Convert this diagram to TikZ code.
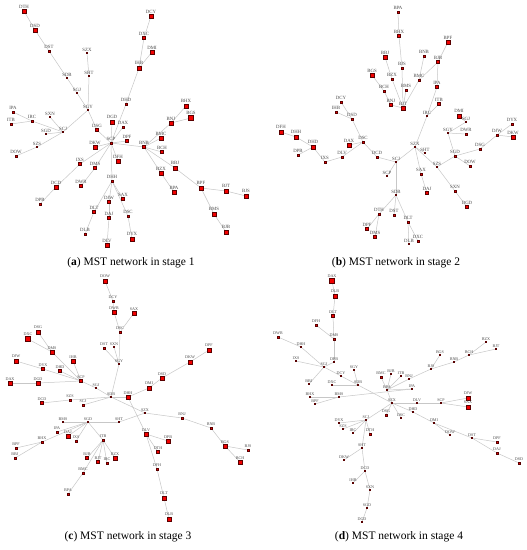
\documentclass[tikz,border=0pt]{standalone}
\usepackage{fontspec}
\setmainfont{Liberation Serif}
\pgfdeclarelayer{bg}
\pgfsetlayers{bg,main}
\newcommand\nd[5]{\node[sq=#5,label={[lbl]above:#2}] (#1-#2) at (#3,#4) {};}
\tikzset{
  sq/.style={rectangle, draw=black!65!red, fill=red!95!black, minimum size={#1*1.15pt}, inner sep=0pt, line width=0.3pt},
  lblA/.style={font=\fontsize{4.8}{5}\selectfont, text=black!70, inner sep=0pt},
  lblC/.style={font=\fontsize{4.1}{4.5}\selectfont, text=black!70, inner sep=0pt},
  edge/.style={draw=black!22, line width=0.5pt},
  captxt/.style={font=\fontsize{11.5}{13}\selectfont, inner sep=0pt}
}
\begin{document}
\begin{tikzpicture}[x=1pt,y=-1pt,label distance=0.8pt]
\begin{pgfonlayer}{bg}
\fill[white] (0,0) rectangle (527,550);
\end{pgfonlayer}
\useasboundingbox (0,0) rectangle (527,550);
% ---------------- panel (a)
\begin{scope}[lbl/.style={lblA}]
\nd{a}{DTH}{24}{11}{3}
\nd{a}{DSD}{35}{30}{3}
\nd{a}{DST}{49}{51}{2}
\nd{a}{SDB}{67}{78}{1}
\nd{a}{SGJ}{77}{93}{1}
\nd{a}{SGY}{88}{110}{1}
\nd{a}{SZX}{87}{53}{0.8}
\nd{a}{SHT}{89}{76}{1}
\nd{a}{DCY}{151}{16}{3}
\nd{a}{DXC}{144}{38}{2.5}
\nd{a}{DMI}{152}{52}{3}
\nd{a}{IHB}{139}{68}{3.5}
\nd{a}{DHD}{126}{104}{2}
\nd{a}{BHX}{186}{106}{3.5}
\nd{a}{BGS}{191}{118}{4.5}
\nd{a}{BNJ}{171}{123}{3}
\nd{a}{DGD}{112}{122}{3.5}
\nd{a}{DAX}{123}{127}{2}
\nd{a}{DSG}{97}{130}{2.5}
\nd{a}{IPA}{13}{112}{2}
\nd{a}{ITB}{11}{124}{2}
\nd{a}{IRC}{32}{121}{2}
\nd{a}{SXN}{50}{117}{1}
\nd{a}{SCJ}{63}{132}{1}
\nd{a}{SGD}{46}{134}{1}
\nd{a}{SZS}{37}{147}{1}
\nd{a}{DOW}{16}{156}{1.5}
\nd{a}{SCP}{111}{143}{1.5}
\nd{a}{DPF}{127}{141}{2.5}
\nd{a}{DKW}{95}{147}{3}
\nd{a}{DFH}{118}{161}{3}
\nd{a}{IXS}{80}{164}{2.5}
\nd{a}{DMS}{95}{168}{2.5}
\nd{a}{DHH}{112}{181}{2}
\nd{a}{BNB}{144}{147}{2.5}
\nd{a}{BMC}{161}{138}{3}
\nd{a}{BCH}{162}{152}{2.5}
\nd{a}{BBJ}{175}{168}{3.5}
\nd{a}{BZX}{161}{173}{3}
\nd{a}{BPA}{174}{192}{3}
\nd{a}{BPF}{201}{188}{3.5}
\nd{a}{BJT}{226}{191}{3.5}
\nd{a}{BJS}{246}{196}{3.5}
\nd{a}{BMS}{214}{214}{3.5}
\nd{a}{BJB}{226}{232}{3.5}
\nd{a}{DCD}{56}{187}{3}
\nd{a}{DWR}{81}{186}{2.5}
\nd{a}{DPB}{40}{204}{2}
\nd{a}{DJW}{109}{202}{2.5}
\nd{a}{SAX}{123}{199}{2.5}
\nd{a}{DLT}{94}{212}{2.5}
\nd{a}{DAJ}{109}{218}{2.5}
\nd{a}{DSC}{128}{216}{2}
\nd{a}{DLB}{85}{234}{2}
\nd{a}{DLV}{107}{245}{3}
\nd{a}{DYX}{132}{239}{3.5}
\end{scope}
% ---------------- panel (b)
\begin{scope}[lbl/.style={lblA}]
\nd{b}{BPA}{398}{12}{1.5}
\nd{b}{BHX}{399}{36}{2.5}
\nd{b}{BPF}{448}{42}{3}
\nd{b}{BBJ}{385}{57}{3}
\nd{b}{BNB}{424}{56}{2}
\nd{b}{BJS}{402}{68}{2}
\nd{b}{BJB}{438}{62}{2.5}
\nd{b}{BGS}{372}{75}{3}
\nd{b}{BZX}{392}{79}{2}
\nd{b}{BMC}{419}{80}{1.5}
\nd{b}{IPA}{437}{87}{2.5}
\nd{b}{BCH}{384}{91}{2}
\nd{b}{BMS}{406}{90}{2}
\nd{b}{BNJ}{391}{105}{2.5}
\nd{b}{BJT}{403}{108}{3}
\nd{b}{ITB}{439}{104}{2.5}
\nd{b}{IRC}{427}{116}{1}
\nd{b}{DCY}{341}{102}{2}
\nd{b}{IHB}{336}{112}{2}
\nd{b}{DSD}{352}{119}{2}
\nd{b}{DMI}{459}{116}{3.5}
\nd{b}{SGJ}{466}{122}{1}
\nd{b}{DYX}{512}{124}{2}
\nd{b}{SGY}{448}{133}{1}
\nd{b}{DWR}{466}{134}{2}
\nd{b}{DJW}{497}{135}{2}
\nd{b}{DKW}{513}{137}{3}
\nd{b}{DSG}{480}{149}{1.5}
\nd{b}{SZX}{415}{147}{1}
\nd{b}{SHT}{425}{153}{1}
\nd{b}{SGD}{455}{156}{1.5}
\nd{b}{SZS}{437}{167}{1}
\nd{b}{DOW}{470}{166}{1.5}
\nd{b}{SAX}{421}{174}{1.5}
\nd{b}{DFH}{281}{132}{4}
\nd{b}{DHH}{296}{137}{3.5}
\nd{b}{DHD}{313}{147}{3.5}
\nd{b}{DPB}{298}{155}{2}
\nd{b}{IXS}{325}{162}{2}
\nd{b}{DLV}{342}{157}{2}
\nd{b}{DAX}{349}{145}{3}
\nd{b}{DSC}{363}{142}{2}
\nd{b}{DCD}{377}{157}{1.5}
\nd{b}{SCJ}{396}{162}{1}
\nd{b}{SCP}{387}{176}{1}
\nd{b}{DAJ}{427}{193}{2.5}
\nd{b}{SXN}{455}{191}{1.5}
\nd{b}{DGD}{467}{207}{2.5}
\nd{b}{SDB}{396}{195}{1}
\nd{b}{DTH}{379}{214}{2}
\nd{b}{DST}{394}{215}{1.5}
\nd{b}{DLT}{408}{222}{1.5}
\nd{b}{DPF}{367}{229}{2.5}
\nd{b}{DMS}{375}{237}{2.5}
\nd{b}{DLB}{409}{244}{1}
\nd{b}{DXC}{418}{241}{1.5}
\end{scope}
% ---------------- panel (c)
\begin{scope}[lbl/.style={lblC}]
\nd{c}{DOW}{105}{281}{4}
\nd{c}{DCY}{113}{301}{2}
\nd{c}{DWR}{114}{312}{3}
\nd{c}{SAX}{134}{313}{3}
\nd{c}{DSC}{120}{332}{2}
\nd{c}{DSG}{38}{332}{4}
\nd{c}{DXC}{28}{339}{4.5}
\nd{c}{DMS}{52}{352}{3}
\nd{c}{DST}{104}{348}{2}
\nd{c}{SXN}{114}{347}{1}
\nd{c}{SGY}{119}{364}{1}
\nd{c}{DJW}{16}{361}{3.5}
\nd{c}{IHB}{73}{361}{3}
\nd{c}{DYX}{43}{369}{2.5}
\nd{c}{DHD}{60}{371}{2.5}
\nd{c}{SCP}{81}{381}{2.5}
\nd{c}{DAX}{10}{383}{3}
\nd{c}{DGD}{38}{383}{3}
\nd{c}{SGJ}{96}{388}{1}
\nd{c}{DPF}{209}{350}{4}
\nd{c}{DKW}{190}{362}{4}
\nd{c}{DSD}{162}{378}{3}
\nd{c}{DMI}{149}{388}{3.5}
\nd{c}{DHH}{128}{397}{3}
\nd{c}{SDB}{111}{397}{1}
\nd{c}{DCD}{42}{403}{2.5}
\nd{c}{SZS}{70}{400}{1.5}
\nd{c}{SCJ}{83}{405}{2}
\nd{c}{SZX}{145}{413}{1}
\nd{c}{BNJ}{182}{418}{2}
\nd{c}{SHT}{119}{422}{1}
\nd{c}{SGD}{88}{422}{1}
\nd{c}{BMS}{63}{422}{1}
\nd{c}{IPA}{57}{432}{1.5}
\nd{c}{DAJ}{68}{436}{3}
\nd{c}{IXS}{76}{441}{2}
\nd{c}{BHX}{42}{442}{1.5}
\nd{c}{BPF}{16}{448}{1.5}
\nd{c}{BBJ}{15}{458}{1.5}
\nd{c}{ITB}{103}{440}{2}
\nd{c}{DLV}{146}{434}{3}
\nd{c}{DPB}{168}{441}{3}
\nd{c}{DTH}{158}{452}{2.5}
\nd{c}{BJB}{87}{458}{2.5}
\nd{c}{BJT}{98}{462}{2.5}
\nd{c}{IRC}{107}{463}{1.5}
\nd{c}{BZX}{115}{458}{3}
\nd{c}{BMC}{83}{473}{1.5}
\nd{c}{BPA}{68}{494}{1.5}
\nd{c}{BNB}{211}{428}{2}
\nd{c}{BGS}{225}{446}{3}
\nd{c}{BJS}{248}{450}{1.5}
\nd{c}{BCH}{240}{462}{3}
\nd{c}{DFH}{157}{469}{2}
\nd{c}{DLT}{164}{498}{4}
\nd{c}{DLB}{169}{519}{4}
\end{scope}
% ---------------- panel (d)
\begin{scope}[lbl/.style={lblC}]
\nd{d}{DAX}{332}{281}{4.5}
\nd{d}{DLB}{335}{296}{4}
\nd{d}{DLT}{333}{316}{2.5}
\nd{d}{DFH}{316}{325}{2}
\nd{d}{DMS}{334}{339}{1.5}
\nd{d}{DWR}{278}{337}{2}
\nd{d}{DHH}{301}{347}{0.8}
\nd{d}{DPB}{334}{362}{1}
\nd{d}{IXS}{296}{361}{1}
\nd{d}{SGJ}{324}{367}{1}
\nd{d}{SGY}{354}{370}{1}
\nd{d}{DCY}{341}{376}{1}
\nd{d}{SDB}{358}{385}{1}
\nd{d}{BBJ}{309}{384}{1}
\nd{d}{DXC}{332}{385}{1}
\nd{d}{BHX}{310}{397}{1}
\nd{d}{BMS}{339}{397}{1}
\nd{d}{BPF}{315}{404}{1}
\nd{d}{BMC}{381}{377}{1.5}
\nd{d}{BJB}{391}{374}{1}
\nd{d}{ITB}{401}{376}{1}
\nd{d}{BNJ}{409}{379}{1}
\nd{d}{BPA}{387}{390}{1}
\nd{d}{IPA}{412}{389}{1}
\nd{d}{BJS}{431}{369}{1}
\nd{d}{BGS}{440}{355}{1}
\nd{d}{BNB}{454}{362}{1}
\nd{d}{BCH}{469}{355}{1}
\nd{d}{BZX}{486}{342}{1}
\nd{d}{BJT}{496}{349}{1}
\nd{d}{SZX}{392}{403}{1}
\nd{d}{DLV}{417}{403}{1}
\nd{d}{SCP}{441}{403}{1}
\nd{d}{DJW}{468}{398}{3.5}
\nd{d}{SAX}{468}{407}{3.5}
\nd{d}{DSG}{386}{415}{2}
\nd{d}{DSC}{401}{418}{1}
\nd{d}{DHD}{413}{412}{1}
\nd{d}{DMI}{434}{423}{1}
\nd{d}{DOW}{450}{435}{1}
\nd{d}{DST}{472}{438}{1}
\nd{d}{DPF}{497}{442}{2}
\nd{d}{DAJ}{497}{453}{2}
\nd{d}{DSD}{519}{463}{2}
\nd{d}{SCJ}{366}{420}{1}
\nd{d}{DYX}{339}{423}{1}
\nd{d}{SZS}{343}{429}{1}
\nd{d}{IRC}{353}{433}{1}
\nd{d}{DTH}{370}{434}{2}
\nd{d}{SHT}{362}{448}{1}
\nd{d}{DKW}{344}{460}{1}
\nd{d}{DCD}{365}{471}{1}
\nd{d}{IHB}{353}{483}{1}
\nd{d}{SXN}{370}{490}{1}
\nd{d}{SGD}{367}{508}{1}
\nd{d}{DGD}{362}{522}{1}
\end{scope}
% ---------------- edges
\begin{pgfonlayer}{bg}
\foreach \u/\v in {DTH/DSD,DSD/DST,DST/SDB,SDB/SGJ,SGJ/SGY,SZX/SHT,SHT/SGY,SGY/SCJ,SGY/DSG,DSG/SCP,
  DCY/DXC,DXC/IHB,DMI/IHB,IHB/DHD,DHD/SCP,DGD/SCP,DAX/SCP,IPA/IRC,ITB/IRC,IRC/SCJ,SXN/SCJ,SGD/SCJ,
  SZS/SCJ,DOW/SZS,SCP/DKW,SCP/DPF,SCP/BNB,SCP/DFH,SCP/IXS,SCP/DMS,SCP/DHH,IXS/DCD,DCD/DPB,DMS/DWR,
  BNB/BMC,BNB/BNJ,BNJ/BHX,BNJ/BGS,BNB/BCH,BNB/BBJ,BNB/BZX,BZX/BPA,BBJ/BPF,BPF/BJT,BJT/BJS,BPF/BMS,
  BMS/BJB,DHH/DJW,DHH/SAX,DHH/DSC,DHH/DLT,DJW/DAJ,DAJ/DLV,DLT/DLB,DSC/DYX}
  \draw[edge] (a-\u) -- (a-\v);
\foreach \u/\v in {BPA/BHX,BHX/BJS,BJS/BJT,BMS/BJT,BBJ/BZX,BZX/BJT,BGS/BCH,BCH/BNJ,BNJ/BJT,BNB/BMC,
  BMC/BJT,BPF/BJB,BJB/BMC,BJB/IPA,IPA/IRC,ITB/IRC,IRC/SZX,SZX/SHT,SZX/SCJ,SZX/SAX,SZX/SZS,SAX/DAJ,
  SZS/SXN,SXN/DGD,SZS/SGD,SGD/SGY,SGY/SGJ,SGJ/DMI,SGY/DWR,SGD/DOW,SGD/DSG,DSG/DJW,DJW/DYX,DJW/DKW,
  SCJ/DCD,DCD/DSC,DSC/DAX,DSC/DLV,DLV/IXS,IXS/DHD,DHD/DHH,DHH/DFH,DHD/DPB,DSC/DSD,DSD/IHB,DSD/DCY,
  SCJ/SDB,SCJ/SCP,SDB/DTH,SDB/DST,SDB/DLT,DTH/DPF,DTH/DMS,DLT/DLB,DLT/DXC}
  \draw[edge] (b-\u) -- (b-\v);
\foreach \u/\v in {DOW/DCY,DCY/DWR,DWR/DSC,SAX/DSC,DSC/SGY,DST/SGY,SXN/SGY,SGY/SDB,DSG/DMS,DXC/DMS,
  DMS/SCP,IHB/SCP,DHD/SCP,DJW/DYX,DYX/SCP,DAX/DGD,DGD/SCP,SCP/SGJ,SGJ/SDB,SDB/DHH,DHH/DMI,DMI/DSD,
  DSD/DKW,DKW/DPF,DCD/SZS,SZS/SDB,SCJ/SDB,SDB/SZX,SZX/BNJ,BNJ/BNB,BNB/BGS,BGS/BJS,BGS/BCH,SZX/SHT,
  SHT/SGD,SGD/BMS,SGD/IPA,SGD/DAJ,SGD/IXS,SGD/BHX,SGD/ITB,BHX/BPF,BHX/BBJ,ITB/BJB,ITB/BJT,ITB/IRC,
  ITB/BZX,ITB/BMC,BMC/BPA,DHH/DLV,DLV/DPB,DLV/DTH,DLV/DFH,DFH/DLT,DLT/DLB}
  \draw[edge] (c-\u) -- (c-\v);
\foreach \u/\v in {DAX/DLB,DLB/DLT,DLT/DMS,DFH/DMS,DMS/DPB,DWR/DHH,DHH/SGJ,IXS/SGJ,DPB/SGJ,SGJ/BBJ,
  SGJ/DCY,DCY/SDB,SGY/SDB,DXC/SDB,SDB/SZX,BMS/BHX,BMS/BPF,BMS/IPA,BPA/BMC,BPA/BJB,BPA/ITB,BPA/BNJ,
  BPA/IPA,BNJ/BJS,BJS/BGS,BJS/BNB,BNB/BCH,BCH/BZX,BCH/BJT,SZX/BPA,SZX/DLV,DLV/SCP,SCP/DJW,SCP/SAX,
  SZX/DSG,SZX/DSC,SZX/DHD,DHD/DMI,DMI/DOW,DMI/DST,DST/DPF,DST/DAJ,DAJ/DSD,SZX/SCJ,SCJ/DYX,SCJ/SZS,
  SCJ/IRC,SCJ/DTH,SCJ/SHT,SHT/DKW,SHT/DCD,DCD/IHB,DCD/SXN,SXN/SGD,SGD/DGD}
  \draw[edge] (d-\u) -- (d-\v);
\end{pgfonlayer}
% ---------------- captions
\node[captxt] (capa) at (131,263) {(\textbf{a}) MST network in stage 1};
\node[captxt] (capb) at (396,263) {(\textbf{b}) MST network in stage 2};
\node[captxt] (capc) at (128,537) {(\textbf{c}) MST network in stage 3};
\node[captxt] (capd) at (399,537) {(\textbf{d}) MST network in stage 4};
\end{tikzpicture}
\end{document}
